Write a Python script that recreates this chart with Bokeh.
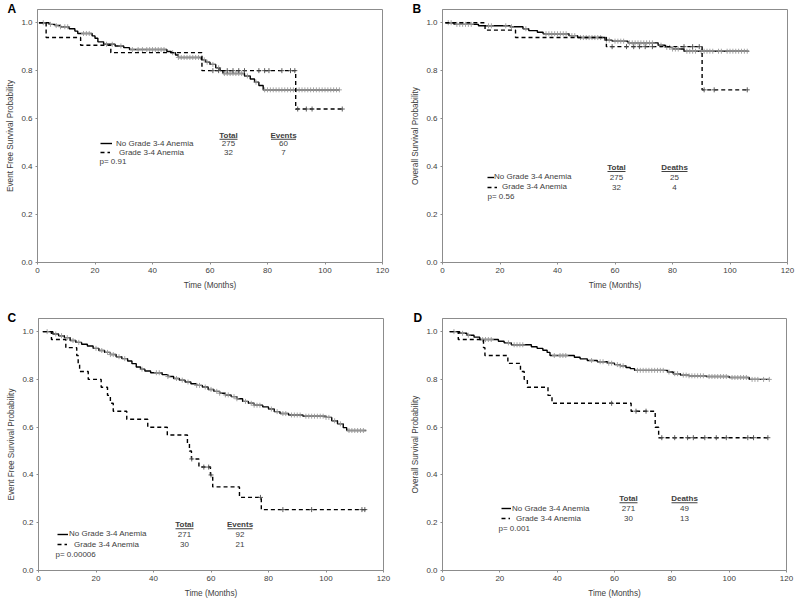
import numpy as np
from bokeh.plotting import figure
from bokeh.layouts import column, row
from bokeh.models import (Range1d, FixedTicker, NumeralTickFormatter, Label, Legend,
                          LegendItem, BoxAnnotation)
from bokeh.core.properties import value
from bokeh.embed import file_html
from bokeh.resources import INLINE

FONT = "Liberation Sans"
TXT = "#404040"
GRAY = "#8c8c8c"

x_ticks = [0, 20, 40, 60, 80, 100, 120]
y_ticks = [0.0, 0.2, 0.4, 0.6, 0.8, 1.0]
group_labels = ["No Grade 3-4 Anemia", "Grade 3-4 Anemia"]

# ---------------- Panel A : event free survival ----------------
a_no_t = [0.5, 4, 6, 8, 11, 13, 14, 19, 20, 21, 23, 27, 30, 32, 45, 46.5, 48, 49, 57, 58.5,
          60, 62, 63.5, 64.5, 72, 74, 75.5, 77, 78.5]
a_no_s = [1.0, 0.993, 0.988, 0.983, 0.975, 0.965, 0.955, 0.945, 0.935, 0.92, 0.91, 0.903, 0.896,
          0.888, 0.88, 0.875, 0.865, 0.855, 0.845, 0.835, 0.826, 0.812, 0.80, 0.788, 0.778, 0.765,
          0.752, 0.738, 0.72]
a_no_end = 105
a_no_cens = [2, 4.5, 6.5, 8, 9.5, 10.5, 16, 17, 18, 24, 26, 29, 33, 35, 36.5, 38, 39, 40, 41, 42,
             43, 44, 47, 49, 50, 51, 52, 53, 54, 55, 56, 58, 59, 61, 63, 65, 66, 67, 68, 69, 70,
             71, 73, 76, 79, 80, 81, 82, 83, 84, 85, 86, 87, 88, 89, 90, 91, 92, 93, 94, 95, 96,
             97, 98, 99, 100, 101, 102, 103, 104, 105]
a_g_t = [0.5, 3, 15, 25.5, 57.2, 89.8]
a_g_s = [1.0, 0.938, 0.906, 0.875, 0.80, 0.64]
a_g_end = 106.5
a_g_cens = [61, 63, 66, 68, 70, 72, 77, 79, 80.5, 85, 88, 89.5, 90.5, 93.5, 95.5, 106]
a_totals = ["275", "32"]
a_counts = ["60", "7"]
a_count_head = "Events"
a_p = "p= 0.91"
a_ylabel = "Event Free Survival Probability"

# ---------------- Panel B : overall survival ----------------
b_no_t = [1, 4, 12.5, 23.5, 28, 30, 33, 35, 44, 47, 56.5, 59, 64.5, 75, 77.5, 80, 84]
b_no_s = [1.0, 0.993, 0.987, 0.983, 0.975, 0.967, 0.96, 0.954, 0.946, 0.938, 0.927, 0.923,
          0.916, 0.906, 0.897, 0.89, 0.881]
b_no_end = 106.5
b_no_cens = [2, 3, 5, 6, 7, 8, 9, 10, 16, 17, 22, 24, 29, 36, 37, 38, 39, 40, 41, 42, 43, 45,
             46, 48, 49, 50, 51, 52, 53, 54, 55, 57, 58, 60, 61, 62, 63, 65, 66, 67, 68, 69, 70,
             71, 72, 73, 76, 78, 79, 80, 81, 82, 85, 86, 87, 88, 90, 91, 92, 93, 94, 96, 97, 99,
             100, 101, 102, 103, 104, 105, 106]
b_g_t = [1, 14.8, 25.4, 57, 90.3]
b_g_s = [1.0, 0.969, 0.938, 0.90, 0.72]
b_g_end = 106.5
b_g_cens = [59, 64, 66.5, 68.5, 70.5, 73, 84, 87, 89.3, 91, 94.5, 106]
b_totals = ["275", "32"]
b_counts = ["25", "4"]
b_count_head = "Deaths"
b_p = "p= 0.56"
b_ylabel = "Overall Survival Probability"

# ---------------- Panel C : event free survival ----------------
c_no_t = [1.5, 5, 7, 9, 11, 13, 15, 17, 19, 21, 23, 25, 27, 29, 31, 32.5, 34, 35.5, 37, 39,
          43, 45, 47, 49, 51, 53, 55, 57, 59, 61, 63, 65, 67, 69, 71, 73, 75, 78, 80, 82,
          84, 87, 92, 100, 102, 104, 106, 107.2]
c_no_s = [1.0, 0.99, 0.983, 0.975, 0.963, 0.955, 0.947, 0.94, 0.93, 0.921, 0.913, 0.904, 0.895,
          0.887, 0.877, 0.866, 0.852, 0.843, 0.835, 0.828, 0.82, 0.812, 0.804, 0.797, 0.789,
          0.782, 0.775, 0.768, 0.758, 0.75, 0.742, 0.735, 0.728, 0.719, 0.708, 0.70, 0.692,
          0.685, 0.676, 0.665, 0.657, 0.651, 0.646, 0.641, 0.627, 0.614, 0.598, 0.586]
c_no_end = 114
c_no_cens = [3, 6, 8, 10, 12, 14, 20, 22, 24, 25, 26, 28, 30, 36, 41, 42, 45, 48, 50, 52, 55,
             56, 58, 60, 62, 63, 65, 66, 68, 69, 72, 74, 75, 76, 77, 81, 83, 85, 86, 88, 89, 90,
             91, 93, 94, 95, 96, 97, 98, 99, 100, 101, 103, 105, 108, 109, 110, 111, 112, 113]
c_g_t = [1.5, 4.5, 9.5, 13.3, 13.8, 14.3, 17.3, 21.8, 24, 25, 26, 30.7, 38, 44.8, 51.8, 52.5,
         53.2, 55.8, 59.8, 60.6, 69.9, 77.5]
c_g_s = [1.0, 0.967, 0.933, 0.90, 0.867, 0.833, 0.80, 0.767, 0.733, 0.70, 0.667, 0.633, 0.60,
         0.567, 0.533, 0.50, 0.467, 0.433, 0.40, 0.35, 0.306, 0.255]
c_g_end = 114
c_g_cens = [53.3, 57.5, 59.2, 60, 77.2, 85, 95, 112.5, 113.5]
c_totals = ["271", "30"]
c_counts = ["92", "21"]
c_count_head = "Events"
c_p = "p= 0.00006"
c_ylabel = "Event Free Survival Probability"

# ---------------- Panel D : overall survival ----------------
d_no_t = [2.5, 6, 8.5, 11, 13, 19.5, 21.5, 24, 31, 33, 35, 36.5, 37.5, 46, 48, 50.5, 54, 57.5,
          60, 62, 64, 65.5, 67, 78.5, 80.5, 83, 86, 92, 100, 107]
d_no_s = [1.0, 0.993, 0.985, 0.977, 0.967, 0.96, 0.953, 0.945, 0.937, 0.93, 0.922, 0.913, 0.90,
          0.893, 0.886, 0.879, 0.874, 0.868, 0.862, 0.857, 0.85, 0.845, 0.838, 0.831, 0.824,
          0.818, 0.815, 0.812, 0.808, 0.80]
d_no_end = 114
d_no_cens = [4, 7, 9, 14, 15, 16, 17, 23, 25, 26, 27, 28, 39, 41, 42, 43, 52, 55, 56, 58, 59,
             61, 62, 63, 68, 69, 70, 71, 72, 73, 74, 75, 76, 77, 79, 81, 82, 84, 85, 86, 87, 88,
             89, 90, 91, 93, 94, 95, 96, 97, 98, 99, 101, 102, 103, 104, 105, 106, 108, 109,
             110, 112, 114]
d_g_t = [2.5, 5.5, 14.3, 14.8, 22.8, 27.2, 28.5, 29.6, 36.8, 38.2, 65.8, 74.2, 75.4]
d_g_s = [1.0, 0.967, 0.933, 0.90, 0.867, 0.833, 0.80, 0.767, 0.733, 0.70, 0.667, 0.60, 0.556]
d_g_end = 114
d_g_cens = [59, 67.5, 71, 76.5, 81, 85.5, 87.5, 91.5, 95.5, 99, 106.5, 108.5, 113.5]
d_totals = ["271", "30"]
d_counts = ["49", "13"]
d_count_head = "Deaths"
d_p = "p= 0.001"
d_ylabel = "Overall Survival Probability"

# ---------------- layout (page pixels; the page body has no margin) ----------------
LAYOUT = {
    "A": dict(w=408, h=304, bl=37, bt=9, bb=42, br=26),
    "B": dict(w=390, h=304, bl=34, bt=9, bb=42, br=11),
    "C": dict(w=408, h=296, bl=38, bt=14, bb=28, br=25),
    "D": dict(w=390, h=296, bl=33, bt=14, bb=28, br=12),
}
FRAME = {"A": (37, 262), "B": (442, 262), "C": (38, 572), "D": (441, 572)}
LEG = {
    "A": dict(gx=100, ry=(143, 152), gw=(12, 10), tx=(116, 119), px=99, py=161,
              totx=228, cntx=283, hy=134.5, hw=(18, 25)),
    "B": dict(gx=487, ry=(176.7, 186.5), gw=(7, 10), tx=(494, 502), px=487, py=196,
              totx=616, cntx=674, hy=166.7, hw=(18, 26)),
    "C": dict(gx=57, ry=(535.7, 546), gw=(11, 10), tx=(69, 74), px=55, py=555.7,
              totx=184, cntx=239.5, hy=526, hw=(18, 25)),
    "D": dict(gx=500, ry=(510, 520), gw=(10, 9), tx=(511, 515), px=497, py=529.5,
              totx=627, cntx=683, hy=500, hw=(18, 26)),
}
LETTER_X = {"A": 7, "B": 412, "C": 7, "D": 412}
LETTER_PAD = 3


def step_value(ts, ss, times):
    ts = np.asarray(ts, dtype=float)
    ss = np.asarray(ss, dtype=float)
    idx = np.searchsorted(ts, np.asarray(times, dtype=float), side="right") - 1
    idx = np.clip(idx, 0, len(ss) - 1)
    return ss[idx]


def make_panel(key, curves, totals, counts, count_head, ptxt, ylabel):
    L = LAYOUT[key]
    fl, fb = FRAME[key]
    p = figure(width=L["w"], height=L["h"], output_backend="svg", toolbar_location=None,
               x_range=Range1d(0, 120), y_range=Range1d(0, 1.055),
               min_border_left=L["bl"], min_border_right=L["br"],
               min_border_top=L["bt"], min_border_bottom=L["bb"])
    p.grid.visible = False
    p.outline_line_color = GRAY
    p.outline_line_width = 1
    p.background_fill_color = "white"
    p.border_fill_color = "white"

    # panel letter as the figure title, pulled to the left of the frame
    p.title.text = key
    p.title.align = "left"
    p.title.vertical_align = "top"
    p.title.text_font = FONT
    p.title.text_font_size = "12px"
    p.title.text_font_style = "bold"
    p.title.text_color = "black"
    try:
        p.title.padding = LETTER_PAD
        pad = LETTER_PAD
    except Exception:
        pad = 0
    p.title.offset = LETTER_X[key] - fl - pad
    try:
        p.title.standoff = -(16 + 2 * pad)
    except Exception:
        p.title.standoff = 0

    p.xaxis.ticker = FixedTicker(ticks=x_ticks)
    p.yaxis.ticker = FixedTicker(ticks=y_ticks)
    p.yaxis.formatter = NumeralTickFormatter(format="0.0")
    p.xaxis.axis_label = "Time (Months)"
    p.yaxis.axis_label = ylabel
    for ax in (p.xaxis[0], p.yaxis[0]):
        ax.axis_line_color = GRAY
        ax.major_tick_line_color = GRAY
        ax.minor_tick_line_color = None
        ax.major_tick_out = 2
        ax.major_tick_in = 0
        ax.major_label_text_font = FONT
        ax.major_label_text_font_size = "8px"
        ax.major_label_text_color = TXT
        ax.axis_label_text_font = FONT
        ax.axis_label_text_font_size = "8.2px"
        ax.axis_label_text_font_style = "normal"
        ax.axis_label_text_color = TXT
        ax.major_label_standoff = 3
    p.yaxis[0].axis_label_standoff = 3
    p.xaxis[0].axis_label_standoff = 5

    rends = []
    for (ts, ss, tend, cens, dash, ccol) in curves:
        xs = list(ts) + [tend]
        ys = list(ss) + [ss[-1]]
        r = p.step(x=xs, y=ys, mode="after", line_color="black", line_width=1.4,
                   line_dash=dash)
        p.scatter(x=cens, y=step_value(ts, ss, cens), marker="cross", size=5,
                  line_color=ccol, line_width=0.9)
        rends.append(r)

    G = LEG[key]
    for i in range(2):
        leg = Legend(items=[LegendItem(label=value(group_labels[i]), renderers=[rends[i]])],
                     location=(G["gx"] - fl, fb - G["ry"][i] - 5),
                     glyph_width=G["gw"][i], glyph_height=10, label_height=10,
                     label_standoff=max(0, G["tx"][i] - G["gx"] - G["gw"][i]),
                     padding=0, margin=0, spacing=0,
                     border_line_alpha=0, background_fill_alpha=0,
                     label_text_font=FONT, label_text_font_size="8px",
                     label_text_color=TXT)
        p.add_layout(leg)

    def lab(x, y, text, align="center", bold=False):
        p.add_layout(Label(x=x - fl, y=fb - y, x_units="screen", y_units="screen", text=text,
                           text_align=align, text_baseline="middle", text_font=FONT,
                           text_font_size="8px", text_color=TXT,
                           text_font_style="bold" if bold else "normal"))

    lab(G["px"], G["py"], ptxt, align="left")
    lab(G["totx"], G["hy"], "Total", bold=True)
    lab(G["cntx"], G["hy"], count_head, bold=True)
    for i in range(2):
        lab(G["totx"], G["ry"][i], totals[i])
        lab(G["cntx"], G["ry"][i], counts[i])
    for cx, w in ((G["totx"], G["hw"][0]), (G["cntx"], G["hw"][1])):
        uy = G["hy"] + 4.3
        p.add_layout(BoxAnnotation(left=cx - w / 2 - fl, right=cx + w / 2 - fl,
                                   bottom=fb - uy - 0.5, top=fb - uy + 0.5,
                                   left_units="screen", right_units="screen",
                                   bottom_units="screen", top_units="screen",
                                   fill_color=TXT, fill_alpha=1, line_color=None))
    return p


SOLID_C = "#9a9a9a"
DASH_C = "#4a4a4a"
pA = make_panel("A", [(a_no_t, a_no_s, a_no_end, a_no_cens, "solid", SOLID_C),
                      (a_g_t, a_g_s, a_g_end, a_g_cens, "4 3", DASH_C)],
                a_totals, a_counts, a_count_head, a_p, a_ylabel)
pB = make_panel("B", [(b_no_t, b_no_s, b_no_end, b_no_cens, "solid", SOLID_C),
                      (b_g_t, b_g_s, b_g_end, b_g_cens, "4 3", DASH_C)],
                b_totals, b_counts, b_count_head, b_p, b_ylabel)
pC = make_panel("C", [(c_no_t, c_no_s, c_no_end, c_no_cens, "solid", SOLID_C),
                      (c_g_t, c_g_s, c_g_end, c_g_cens, "4 3", DASH_C)],
                c_totals, c_counts, c_count_head, c_p, c_ylabel)
pD = make_panel("D", [(d_no_t, d_no_s, d_no_end, d_no_cens, "solid", SOLID_C),
                      (d_g_t, d_g_s, d_g_end, d_g_cens, "4 3", DASH_C)],
                d_totals, d_counts, d_count_head, d_p, d_ylabel)

layout = column(row(pA, pB), row(pC, pD))
open("out.html", "w").write(file_html(layout, INLINE))
